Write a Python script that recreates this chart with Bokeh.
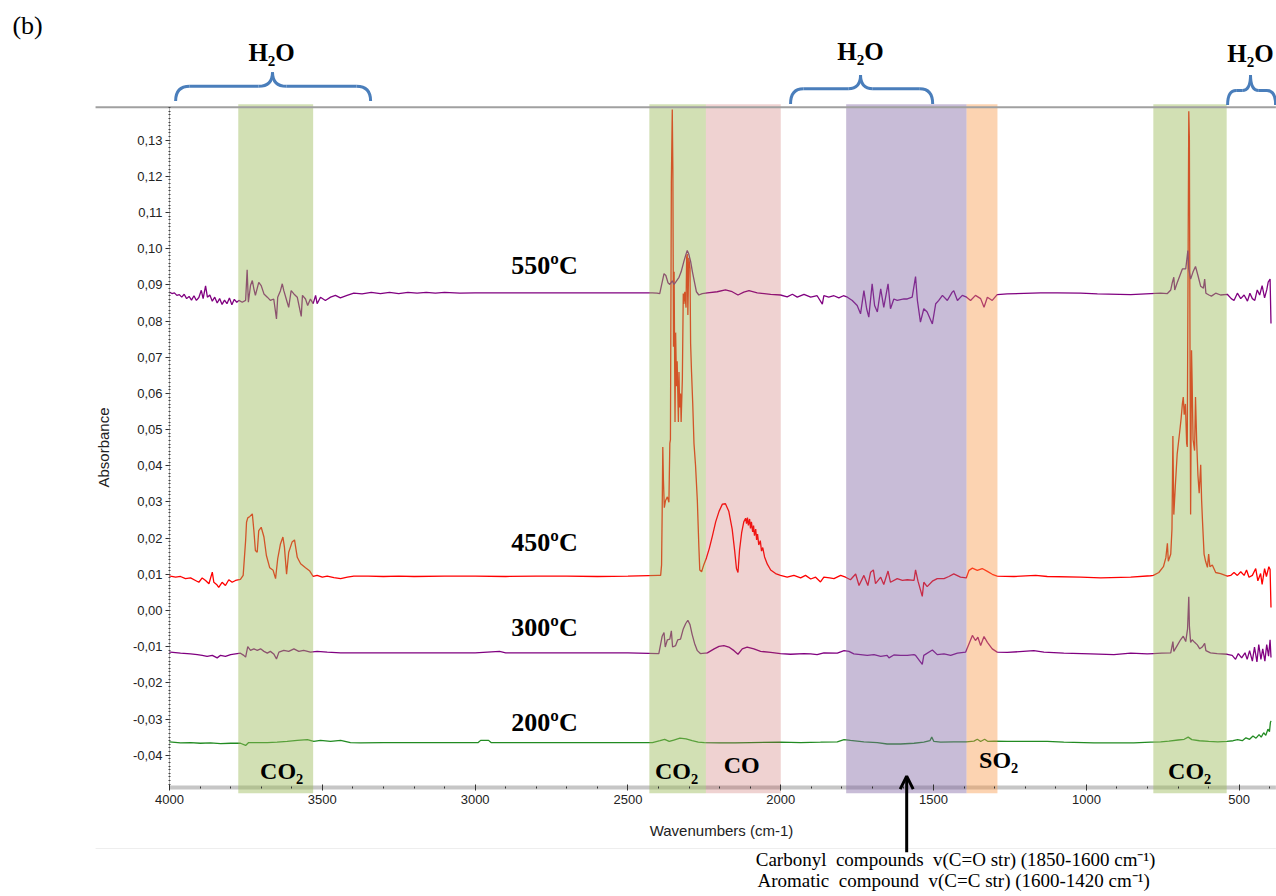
from bokeh.plotting import figure
from bokeh.models import Range1d, FixedTicker, Arrow, OpenHead
from bokeh.core.properties import value
from bokeh.embed import file_html
from bokeh.resources import INLINE

# ---------------- data (wavenumber cm-1, absorbance) ----------------
s550_wn = [4000, 3992, 3984, 3976, 3968, 3960, 3952, 3944, 3936, 3928, 3920, 3912, 3904, 3896, 3890, 3882, 3876,
           3868, 3860, 3852, 3844, 3836, 3828, 3820, 3812, 3804, 3796, 3788, 3780,
           3773, 3762, 3751, 3746, 3742, 3735, 3729, 3724, 3719, 3708, 3700, 3691, 3680, 3670, 3659, 3650, 3646,
           3637, 3631, 3626, 3615, 3610, 3602, 3593, 3582, 3569, 3565, 3555, 3548, 3539, 3530, 3522, 3517, 3506,
           3490, 3473, 3457, 3441, 3419, 3397,
           3370, 3340, 3310, 3280, 3250, 3220, 3190, 3160, 3130, 3100, 3050, 3000, 2950, 2900, 2800, 2700, 2600,
           2500, 2420, 2405,
           2396, 2391, 2382, 2376, 2369, 2363, 2355, 2349, 2341, 2333, 2326, 2317, 2310, 2306, 2301, 2295, 2289,
           2282, 2276, 2268, 2257, 2240, 2208, 2181, 2159, 2140, 2121, 2104, 2077, 2033, 2001, 1979, 1962, 1946,
           1924, 1902, 1881, 1864, 1859, 1843, 1826, 1810, 1795,
           1782, 1766, 1750, 1739, 1728, 1719, 1712, 1701, 1693, 1684, 1673, 1663, 1649, 1641, 1630, 1619, 1608,
           1597, 1586, 1570, 1559, 1553, 1543, 1532, 1521, 1504, 1493, 1483, 1471, 1455, 1439, 1434, 1422, 1406,
           1392, 1379, 1363, 1346, 1335, 1324, 1308, 1292, 1259, 1150, 1095, 1019, 964, 855, 757,
           735, 724, 719, 714, 711, 703, 694, 686, 675, 668, 665, 659, 651, 643, 635, 626, 617, 613, 609, 599,
           591, 577, 561, 539, 526, 517, 506, 495, 484, 473, 465, 457, 449, 441, 433, 425, 417, 410, 405, 399, 396]
s550_abs = [0.0880, 0.0876, 0.0878, 0.0871, 0.0873, 0.0866, 0.0874, 0.0862, 0.0868, 0.0858, 0.0870, 0.0857,
            0.0865, 0.0885, 0.0862, 0.0897, 0.0866, 0.0872, 0.0855, 0.0866, 0.0850, 0.0862, 0.0846, 0.0858,
            0.0848, 0.0864, 0.0845, 0.0860, 0.0852,
            0.0857, 0.0852, 0.0857, 0.0942, 0.0852, 0.0898, 0.0912, 0.0889, 0.0871, 0.0907, 0.0898, 0.0875,
            0.0866, 0.0857, 0.0861, 0.0806, 0.0866, 0.0884, 0.0903, 0.0884, 0.0852, 0.0838, 0.0884, 0.0875,
            0.0866, 0.0813, 0.0871, 0.0861, 0.0843, 0.0861, 0.0848, 0.0871, 0.0848, 0.0866, 0.0857, 0.0866,
            0.0871, 0.0864, 0.0871, 0.0877,
            0.0875, 0.0879, 0.0876, 0.0879, 0.0876, 0.0879, 0.0877, 0.0879, 0.0877, 0.0879, 0.0877, 0.0878,
            0.0878, 0.0878, 0.0878, 0.0878, 0.0878, 0.0878, 0.0878, 0.0877,
            0.0876, 0.0896, 0.0931, 0.0926, 0.0906, 0.0901, 0.0911, 0.0901, 0.0911, 0.0921, 0.0936, 0.0965,
            0.0985, 0.0995, 0.0985, 0.0965, 0.0936, 0.0906, 0.0881, 0.0872, 0.0876, 0.0878, 0.0881, 0.0886,
            0.0881, 0.0872, 0.0880, 0.0884, 0.0878, 0.0874, 0.0872, 0.0867, 0.0874, 0.0866, 0.0874, 0.0866,
            0.0870, 0.0847, 0.0870, 0.0866, 0.0870, 0.0864, 0.0870,
            0.0866, 0.0857, 0.0843, 0.0820, 0.0884, 0.0834, 0.0811, 0.0903, 0.0843, 0.0825, 0.0889, 0.0838,
            0.0903, 0.0834, 0.0861, 0.0857, 0.0859, 0.0861, 0.0861, 0.0866, 0.0923, 0.0857, 0.0797, 0.0834,
            0.0825, 0.0792, 0.0848, 0.0857, 0.0871, 0.0857, 0.0880, 0.0884, 0.0857, 0.0871,
            0.0866, 0.0857, 0.0871, 0.0862, 0.0838, 0.0866, 0.0857, 0.0873, 0.0875, 0.0878, 0.0878, 0.0877,
            0.0875, 0.0873, 0.0877,
            0.0876, 0.0886, 0.0906, 0.0921, 0.0886, 0.0906, 0.0926, 0.0944, 0.0944, 0.0995, 0.0944, 0.0916,
            0.0936, 0.0951, 0.0926, 0.0896, 0.0891, 0.0916, 0.0877, 0.0872, 0.0869, 0.0877, 0.0872, 0.0874,
            0.0862, 0.0857, 0.0877, 0.0862, 0.0872, 0.0855, 0.0877, 0.0862, 0.0857, 0.0886, 0.0872, 0.0898,
            0.0864, 0.0886, 0.0908, 0.0916, 0.0793]

s450_wn = [4000, 3997, 3980, 3964, 3948, 3931, 3915, 3904, 3893, 3882, 3871, 3860, 3855, 3846, 3839, 3828, 3817,
           3806, 3795, 3784, 3768, 3759, 3751, 3748, 3744, 3737, 3729, 3724, 3719, 3713, 3708, 3700, 3691, 3683,
           3672, 3661, 3653, 3646, 3637, 3629, 3624, 3617, 3610, 3599, 3591, 3582, 3571, 3555, 3541, 3530, 3517,
           3500, 3484, 3462, 3440, 3418, 3397,
           3350, 3300, 3250, 3200, 3100, 3000, 2900, 2800, 2700, 2600, 2500, 2400,
           2393, 2390, 2388, 2386, 2384, 2381, 2377, 2371, 2366, 2363, 2361, 2358, 2355, 2353, 2351, 2349, 2346,
           2344, 2341, 2339, 2335, 2333, 2331, 2328, 2326, 2322, 2319, 2317, 2314, 2310, 2308, 2306, 2304, 2301,
           2297, 2295, 2292, 2288, 2284, 2279, 2273, 2268, 2265, 2259, 2252, 2243, 2234, 2224, 2213, 2202, 2191,
           2181, 2170, 2159, 2151, 2145, 2140, 2135, 2128, 2121, 2115, 2112, 2109, 2106, 2102, 2099, 2096, 2092,
           2089, 2086, 2082, 2079, 2076, 2072, 2067, 2063, 2059, 2053, 2044, 2033, 2017, 2001, 1979, 1957, 1935,
           1919, 1902, 1886, 1870, 1859, 1840, 1826, 1804, 1788, 1772, 1755, 1744, 1728, 1715, 1706, 1697, 1690,
           1673, 1663, 1649, 1641, 1619, 1602, 1586, 1564, 1559, 1551, 1537, 1532, 1521, 1504, 1488, 1466, 1450,
           1434, 1412, 1393, 1384, 1373, 1357, 1341, 1324, 1308, 1292, 1237, 1166, 1128, 1019, 953, 855, 790, 781,
           763, 748, 740, 735, 732, 724, 720, 717, 714, 709, 703, 695, 690, 686, 683, 680, 676, 672, 670, 667, 665,
           663, 661, 659, 656, 654, 651, 646, 643, 639, 635, 631, 626, 623, 620, 615, 610, 604, 600, 596, 588, 577,
           561, 539, 528, 517, 506, 495, 484, 476, 468, 457, 446, 439, 430, 425, 417, 411, 403, 399, 396]
s450_abs = [0.0096, 0.0095, 0.0092, 0.0094, 0.0088, 0.0090, 0.0083, 0.0078, 0.0090, 0.0083, 0.0074, 0.0106,
            0.0078, 0.0072, 0.0064, 0.0078, 0.0069, 0.0085, 0.0078, 0.0083, 0.0086, 0.0097, 0.0193, 0.0244,
            0.0256, 0.0260, 0.0267, 0.0221, 0.0166, 0.0161, 0.0221, 0.0230, 0.0203, 0.0152, 0.0118, 0.0111,
            0.0088, 0.0143, 0.0184, 0.0203, 0.0175, 0.0100, 0.0161, 0.0189, 0.0195, 0.0147, 0.0129, 0.0118,
            0.0109, 0.0094, 0.0097, 0.0092, 0.0095, 0.0091, 0.0088, 0.0092, 0.0095,
            0.0095, 0.0094, 0.0095, 0.0094, 0.0095, 0.0095, 0.0094, 0.0095, 0.0095, 0.0094, 0.0095, 0.0097,
            0.0097, 0.0126, 0.0274, 0.0452, 0.0363, 0.0284, 0.0304, 0.0314, 0.0299, 0.0462, 0.0472, 0.1183,
            0.1385, 0.1212, 0.0729, 0.0936, 0.0521, 0.0768, 0.0620, 0.0689, 0.0521, 0.0659, 0.0561, 0.0600,
            0.0521, 0.0640, 0.0876, 0.0847, 0.0881, 0.0837, 0.0975, 0.0985, 0.0817, 0.0975, 0.0946, 0.0738,
            0.0659, 0.0571, 0.0462, 0.0403, 0.0304, 0.0176, 0.0112, 0.0107, 0.0126, 0.0146, 0.0171, 0.0205,
            0.0245, 0.0274, 0.0294, 0.0295, 0.0274, 0.0225, 0.0166, 0.0116, 0.0105, 0.0166, 0.0215, 0.0245,
            0.0255, 0.0240, 0.0257, 0.0235, 0.0253, 0.0227, 0.0245, 0.0217, 0.0235, 0.0207, 0.0225, 0.0195,
            0.0211, 0.0181, 0.0193, 0.0164, 0.0174, 0.0148, 0.0128, 0.0112, 0.0102, 0.0097, 0.0092, 0.0097,
            0.0090, 0.0097, 0.0087, 0.0092, 0.0079, 0.0092, 0.0090, 0.0088, 0.0097, 0.0092, 0.0085, 0.0101,
            0.0069, 0.0097, 0.0069, 0.0106, 0.0112, 0.0074, 0.0092, 0.0072, 0.0109, 0.0078, 0.0088, 0.0083,
            0.0085, 0.0083, 0.0112, 0.0081, 0.0039, 0.0078, 0.0066, 0.0081, 0.0088, 0.0088, 0.0094, 0.0101,
            0.0092, 0.0090, 0.0111, 0.0117, 0.0111, 0.0116, 0.0108, 0.0100, 0.0095, 0.0094, 0.0097, 0.0094,
            0.0092, 0.0090, 0.0092, 0.0096, 0.0097,
            0.0105, 0.0121, 0.0146, 0.0186, 0.0136, 0.0156, 0.0225, 0.0482, 0.0265, 0.0344, 0.0432, 0.0492,
            0.0531, 0.0571, 0.0590, 0.0541, 0.0571, 0.0462, 0.0452, 0.1015, 0.1380, 0.1301, 0.0719, 0.0265,
            0.0719, 0.0630, 0.0472, 0.0442, 0.0590, 0.0462, 0.0373, 0.0324, 0.0403, 0.0304, 0.0245, 0.0156,
            0.0136, 0.0119, 0.0156, 0.0121, 0.0126, 0.0105, 0.0102, 0.0095, 0.0097, 0.0105, 0.0097, 0.0107,
            0.0097, 0.0112, 0.0092, 0.0097, 0.0116, 0.0082, 0.0102, 0.0072, 0.0116, 0.0094, 0.0121, 0.0113,
            0.0008]

s300_wn = [4000, 3997, 3964, 3931, 3909, 3893, 3877, 3860, 3844, 3833, 3817, 3800, 3784, 3768, 3757, 3751, 3744,
           3735, 3724, 3713, 3702, 3691, 3680, 3670, 3659, 3650, 3642, 3626, 3610, 3593, 3577, 3561, 3539, 3517,
           3484, 3440, 3375, 3300, 3200, 3100, 3000, 2920, 2900, 2800, 2700, 2600, 2500,
           2399, 2388, 2382, 2378, 2371, 2363, 2358, 2354, 2344, 2337, 2328, 2319, 2311, 2304, 2297, 2290, 2282,
           2273, 2263, 2240, 2218, 2202, 2186, 2170, 2153, 2140, 2126, 2110, 2088, 2066, 2033, 2001, 1968, 1924,
           1902, 1881, 1859, 1815, 1793, 1777, 1761, 1739, 1717, 1695, 1673, 1652, 1646, 1630, 1608, 1586, 1564,
           1559, 1537, 1532, 1504, 1488, 1466, 1444, 1422, 1395, 1384, 1373, 1363, 1355, 1346, 1335, 1324, 1308,
           1292, 1259, 1172, 1139, 1074, 986, 910, 855, 801, 781, 754, 724, 717, 714, 703, 692, 683, 675, 669,
           665, 663, 659, 654, 646, 637, 629, 621, 613, 609, 594, 572, 539, 523, 512, 503, 492, 481, 474, 466,
           457, 450, 442, 436, 429, 423, 416, 410, 404, 399, 396]
s300_abs = [-0.0115, -0.0115, -0.0118, -0.0120, -0.0122, -0.0124, -0.0127, -0.0124, -0.0131, -0.0124, -0.0127,
            -0.0122, -0.0120, -0.0118, -0.0124, -0.0129, -0.0100, -0.0110, -0.0106, -0.0110, -0.0106, -0.0113,
            -0.0118, -0.0113, -0.0120, -0.0134, -0.0115, -0.0110, -0.0113, -0.0106, -0.0113, -0.0110, -0.0115,
            -0.0113, -0.0115, -0.0117, -0.0117, -0.0117, -0.0117, -0.0117, -0.0117, -0.0113, -0.0117, -0.0117,
            -0.0117, -0.0117, -0.0117,
            -0.0119, -0.0071, -0.0061, -0.0101, -0.0081, -0.0079, -0.0056, -0.0101, -0.0097, -0.0081, -0.0079,
            -0.0051, -0.0036, -0.0027, -0.0039, -0.0066, -0.0091, -0.0111, -0.0119, -0.0117, -0.0106, -0.0099,
            -0.0097, -0.0101, -0.0111, -0.0121, -0.0106, -0.0101, -0.0106, -0.0113, -0.0116, -0.0119, -0.0121,
            -0.0119, -0.0120, -0.0122, -0.0117, -0.0118, -0.0111, -0.0113, -0.0120, -0.0122, -0.0124, -0.0122,
            -0.0127, -0.0124, -0.0131, -0.0123, -0.0124, -0.0124, -0.0122, -0.0124, -0.0149, -0.0124, -0.0109,
            -0.0122, -0.0120, -0.0124, -0.0118, -0.0115, -0.0092, -0.0069, -0.0083, -0.0074, -0.0097, -0.0072,
            -0.0088, -0.0106, -0.0115, -0.0116, -0.0111, -0.0115, -0.0118, -0.0120, -0.0122, -0.0118, -0.0120,
            -0.0119, -0.0118, -0.0117, -0.0086, -0.0113, -0.0097, -0.0081, -0.0071, -0.0086, -0.0051, 0.0038,
            -0.0043, -0.0088, -0.0081, -0.0088, -0.0095, -0.0106, -0.0101, -0.0091, -0.0111, -0.0117, -0.0119,
            -0.0121, -0.0124, -0.0135, -0.0119, -0.0131, -0.0117, -0.0135, -0.0111, -0.0140, -0.0101, -0.0142,
            -0.0094, -0.0135, -0.0106, -0.0140, -0.0094, -0.0126, -0.0081, -0.0130]

s200_wn = [4000, 3964, 3931, 3899, 3866, 3833, 3800, 3768, 3751, 3741, 3713, 3680, 3648, 3615, 3582, 3549, 3528,
           3506, 3473, 3440, 3408, 3375, 3300, 3200, 3100, 2990, 2982, 2956, 2948, 2800, 2700, 2600, 2500, 2420,
           2395, 2380, 2365, 2350, 2330, 2310, 2290, 2270, 2250, 2200, 2150, 2100, 2001, 1935, 1870, 1815, 1793,
           1772, 1728, 1684, 1652, 1608, 1564, 1532, 1512, 1506, 1499, 1477, 1434, 1393, 1368, 1357, 1346, 1333,
           1322, 1302, 1259, 1128, 1074, 975, 845, 790, 757, 730, 700, 680, 667, 655, 630, 600, 570, 540, 520,
           505, 490, 478, 466, 455, 445, 435, 428, 420, 413, 406, 401, 398, 396]
s200_abs = [-0.0363, -0.0366, -0.0365, -0.0367, -0.0366, -0.0368, -0.0367, -0.0367, -0.0373, -0.0365, -0.0365,
            -0.0365, -0.0364, -0.0362, -0.0359, -0.0357, -0.0362, -0.0359, -0.0362, -0.0359, -0.0365, -0.0366,
            -0.0365, -0.0365, -0.0365, -0.0365, -0.0359, -0.0359, -0.0365, -0.0365, -0.0365, -0.0365, -0.0365,
            -0.0365, -0.0360, -0.0356, -0.0362, -0.0358, -0.0353, -0.0355, -0.0360, -0.0364, -0.0365, -0.0366,
            -0.0366, -0.0365, -0.0364, -0.0365, -0.0364, -0.0363, -0.0357, -0.0359, -0.0363, -0.0365, -0.0369,
            -0.0369, -0.0367, -0.0364, -0.0360, -0.0350, -0.0362, -0.0364, -0.0363, -0.0363, -0.0361, -0.0356,
            -0.0362, -0.0356, -0.0362, -0.0361, -0.0362, -0.0362, -0.0364, -0.0366, -0.0366, -0.0364, -0.0363,
            -0.0361, -0.0358, -0.0356, -0.0350, -0.0357, -0.0360, -0.0362, -0.0363, -0.0362, -0.0360, -0.0357,
            -0.0360, -0.0352, -0.0356, -0.0347, -0.0353, -0.0343, -0.0350, -0.0338, -0.0345, -0.0328, -0.0335,
            -0.0310, -0.0305]

series_labels = ["550ºC", "450ºC", "300ºC", "200ºC"]
series_colors = ["#800080", "#ff0000", "#800080", "#228b22"]

# shaded assignment bands (cm-1)
band_labels = ["CO₂", "CO₂", "CO", "", "SO₂", "CO₂"]
band_high = [3775, 2430, 2245, 1786, 1392, 781]
band_low = [3530, 2245, 2000, 1392, 1291, 541]
band_colors = ["#9bbb59", "#9bbb59", "#c0504d", "#8064a2", "#f79646", "#9bbb59"]
band_alphas = [0.45, 0.45, 0.26, 0.43, 0.42, 0.45]

# H2O regions marked with braces (cm-1)
h2o_high = [3980, 1968, 538]
h2o_low = [3342, 1503, 381]

x_tick_values = [4000, 3500, 3000, 2500, 2000, 1500, 1000, 500]
y_tick_values = [-0.04, -0.03, -0.02, -0.01, 0.0, 0.01, 0.02, 0.03, 0.04, 0.05, 0.06, 0.07, 0.08, 0.09,
                 0.10, 0.11, 0.12, 0.13]
y_tick_labels = ["-0,04", "-0,03", "-0,02", "-0,01", "0,00", "0,01", "0,02", "0,03", "0,04", "0,05", "0,06",
                 "0,07", "0,08", "0,09", "0,10", "0,11", "0,12", "0,13"]

# ---------------- figure ----------------
Y_BOTTOM = -0.0489   # level of the wavenumber axis
Y_TOP = 0.1391       # top border line of the plot area
SERIF = "Liberation Serif"
SANS = "Liberation Sans"

p = figure(width=1276, height=894, output_backend="svg", toolbar_location=None,
           x_range=Range1d(4553, 378), y_range=Range1d(-0.0785, 0.1686),
           min_border=0, min_border_left=0, min_border_right=0, min_border_top=0, min_border_bottom=0)
p.outline_line_color = None
p.grid.visible = False
p.background_fill_color = "white"
p.border_fill_color = "white"

# axes placed inside the frame
xa = p.xaxis[0]
xa.fixed_location = Y_BOTTOM
xa.ticker = FixedTicker(ticks=x_tick_values, minor_ticks=list(range(4000, 399, -100)))
xa.axis_line_color = None
xa.major_tick_in = 3
xa.major_tick_out = 3
xa.major_tick_line_color = "#333333"
xa.minor_tick_in = 1
xa.minor_tick_out = 1
xa.minor_tick_line_color = "#333333"
xa.major_label_text_font = SANS
xa.major_label_text_font_size = "13px"
xa.major_label_text_color = "#222222"
xa.major_label_standoff = 5

ya = p.yaxis[0]
ya.fixed_location = 4000
ya.ticker = FixedTicker(ticks=y_tick_values, minor_ticks=[i / 1000 for i in range(-48, 140)])
ya.major_label_overrides = dict(zip(y_tick_values, y_tick_labels))
ya.axis_line_color = None
ya.major_tick_in = 0
ya.major_tick_out = 4
ya.major_tick_line_color = "#333333"
ya.minor_tick_in = 1
ya.minor_tick_out = 1
ya.minor_tick_line_color = "#444444"
ya.major_label_text_font = SANS
ya.major_label_text_font_size = "13px"
ya.major_label_text_color = "#222222"
ya.major_label_standoff = 3
ya.axis_label = "Absorbance"
ya.axis_label_text_font = SANS
ya.axis_label_text_font_size = "15px"
ya.axis_label_text_font_style = "normal"
ya.axis_label_text_color = "#222222"
ya.axis_label_standoff = 18

# frame lines
p.segment(x0=[4000], y0=[Y_BOTTOM], x1=[380], y1=[Y_BOTTOM], line_color="#c6c6c6", line_width=4)
p.segment(x0=[4000], y0=[Y_BOTTOM], x1=[4000], y1=[Y_TOP], line_color="#b0b0b0", line_width=1)
p.segment(x0=[4242], y0=[-0.0658], x1=[380], y1=[-0.0658], line_color="#eeeeee", line_width=1)

# spectra
for wn, ab, col in [(s200_wn, s200_abs, series_colors[3]), (s300_wn, s300_abs, series_colors[2]),
                    (s450_wn, s450_abs, series_colors[1]), (s550_wn, s550_abs, series_colors[0])]:
    p.line(wn, ab, line_color=col, line_width=1.3)

# shaded bands (semi-transparent, over the traces)
p.quad(left=band_high, right=band_low, bottom=[-0.0505] * len(band_high), top=[0.1399] * len(band_high),
       fill_color=band_colors, fill_alpha=band_alphas, line_color=None)

p.segment(x0=[4242], y0=[Y_TOP], x1=[380], y1=[Y_TOP], line_color="#a0a0a0", line_width=2)


def add_text(x, y, txt, size, font=SERIF, style="bold", align="center", color="black"):
    p.text(x=[x], y=[y], text=[txt], text_font=value(font), text_font_size=size,
           text_font_style=style, text_align=align, text_baseline="alphabetic", text_color=color)


# braces for H2O
BRACE = "#4a7ebb"


def brace(x_hi, x_lo, x_tip, y_end, y_bar, y_tip, curl, tip):
    kw = dict(line_color=BRACE, line_width=3)
    p.quadratic(x0=[x_hi], y0=[y_end], x1=[x_hi - curl], y1=[y_bar], cx=[x_hi], cy=[y_bar], **kw)
    p.segment(x0=[x_hi - curl], y0=[y_bar], x1=[x_tip + tip], y1=[y_bar], **kw)
    p.quadratic(x0=[x_tip + tip], y0=[y_bar], x1=[x_tip], y1=[y_tip], cx=[x_tip], cy=[y_bar], **kw)
    p.quadratic(x0=[x_tip], y0=[y_tip], x1=[x_tip - tip], y1=[y_bar], cx=[x_tip], cy=[y_bar], **kw)
    p.segment(x0=[x_tip - tip], y0=[y_bar], x1=[x_lo + curl], y1=[y_bar], **kw)
    p.quadratic(x0=[x_lo + curl], y0=[y_bar], x1=[x_lo], y1=[y_end], cx=[x_lo], cy=[y_bar], **kw)


brace(h2o_high[0], h2o_low[0], 3663, 0.1408, 0.1449, 0.1488, 46, 46)
brace(h2o_high[1], h2o_low[1], 1739, 0.1400, 0.1442, 0.1480, 42, 40)
brace(h2o_high[2], h2o_low[2], 463, 0.1397, 0.1437, 0.1480, 28, 27)

add_text(3666, 0.1542, "H₂O", "25px")
add_text(1739, 0.1544, "H₂O", "25px")
add_text(463, 0.1540, "H₂O", "25px")

add_text(4514, 0.1617, "(b)", "26px", style="normal", align="left")

# temperature labels
add_text(2773, 0.0953, series_labels[0], "26px")
add_text(2773, 0.0188, series_labels[1], "26px")
add_text(2773, -0.0047, series_labels[2], "26px")
add_text(2773, -0.0310, series_labels[3], "26px")

# band labels
add_text(3633, -0.0445, band_labels[0], "24px")
add_text(2341, -0.0445, band_labels[1], "24px")
add_text(2128, -0.0428, band_labels[2], "24px")
add_text(1287, -0.0412, band_labels[4], "24px")
add_text(662, -0.0445, band_labels[5], "24px")

# axis title (wavenumber)
add_text(2194, -0.0608, "Wavenumbers (cm-1)", "15px", font=SANS, style="normal", color="#222222")

# arrow + carbonyl / aromatic note
p.add_layout(Arrow(end=OpenHead(size=13, line_width=3, line_color="black"),
                   x_start=1588, y_start=-0.0668, x_end=1588, y_end=-0.0458,
                   line_width=3, line_color="black"))
add_text(2082, -0.0689, "Carbonyl \u00a0compounds \u00a0v(C=O str) (1850-1600 cm⁻¹)", "19px",
         style="normal", align="left")
add_text(2076, -0.0746, "Aromatic \u00a0compound \u00a0v(C=C str) (1600-1420 cm⁻¹)", "19px",
         style="normal", align="left")

open("out.html", "w").write(file_html(p, INLINE))
